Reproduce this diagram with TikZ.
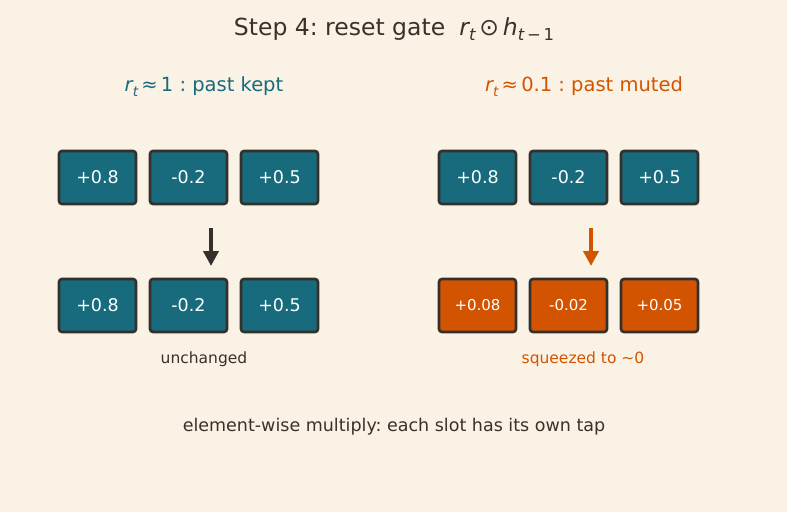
\documentclass[tikz,border=0pt]{standalone}
\usepackage{fontspec}
\setmainfont{DejaVu Sans}
\usetikzlibrary{arrows.meta}
\definecolor{bg}{HTML}{FAF2E4}
\definecolor{teal}{HTML}{176B7D}
\definecolor{orng}{HTML}{D35400}
\definecolor{edge}{HTML}{36302C}
\definecolor{ink}{HTML}{3B302A}
\newcommand{\sbt}[1]{\raisebox{-0.4ex}{\fontsize{0.7em}{0.8em}\selectfont #1}}
\frenchspacing
\begin{document}
\begin{tikzpicture}[x=1pt,y=-1pt,
  cell/.style={draw=edge,line width=2.6pt,rounded corners=3pt,minimum width=77pt,minimum height=53pt,inner sep=0pt,text=white,font=\fontsize{17.5}{19}\selectfont},
  tcell/.style={cell,fill=teal},
  ocell/.style={cell,fill=orng,font=\fontsize{15}{17}\selectfont},
  gate/.style={line width=3.8pt,-{Triangle[width=15pt,length=15pt]}}]
\fill[bg] (0,0) rectangle (787,512);
\useasboundingbox (0,0) rectangle (787,512);
\node[text=ink,font=\fontsize{23.5}{27}\selectfont] (title) at (394,29) {Step 4: reset gate\hspace{0.6em}{\itshape r}\sbt{\itshape t}\,⊙\,{\itshape h}\sbt{{\itshape t}\,−\,1}};
\node[text=teal,font=\fontsize{19.5}{23}\selectfont] (subL) at (204,86.5) {{\itshape r}\sbt{\itshape t}\,≈\,1 : past kept};
\node[text=orng,font=\fontsize{19.5}{23}\selectfont] (subR) at (584,86.5) {{\itshape r}\sbt{\itshape t}\,≈\,0.1 : past muted};
% left
\node[tcell] (l1) at (97.5,177.5) {+0.8};
\node[tcell] (l2) at (188.5,177.5) {-0.2};
\node[tcell] (l3) at (279.5,177.5) {+0.5};
\node[tcell] (l4) at (97.5,305.5) {+0.8};
\node[tcell] (l5) at (188.5,305.5) {-0.2};
\node[tcell] (l6) at (279.5,305.5) {+0.5};
% right
\node[tcell] (r1) at (477.5,177.5) {+0.8};
\node[tcell] (r2) at (568.5,177.5) {-0.2};
\node[tcell] (r3) at (659.5,177.5) {+0.5};
\node[ocell] (r4) at (477.5,305.5) {+0.08};
\node[ocell] (r5) at (568.5,305.5) {-0.02};
\node[ocell] (r6) at (659.5,305.5) {+0.05};
\coordinate (la) at (211,228);
\coordinate (lb) at (211,266);
\coordinate (ra) at (591,228);
\coordinate (rb) at (591,266);
\draw[gate,draw=edge,fill=edge] (la) -- (lb);
\draw[gate,draw=orng,fill=orng] (ra) -- (rb);
\node[text=ink,font=\fontsize{15.5}{18}\selectfont] (capL) at (204,359) {unchanged};
\node[text=orng,font=\fontsize{15.5}{18}\selectfont] (capR) at (583,359) {squeezed to \textasciitilde0};
\node[text=ink,font=\fontsize{17.5}{20}\selectfont] (foot) at (394,426.5) {element-wise multiply: each slot has its own tap};
\end{tikzpicture}
\end{document}
